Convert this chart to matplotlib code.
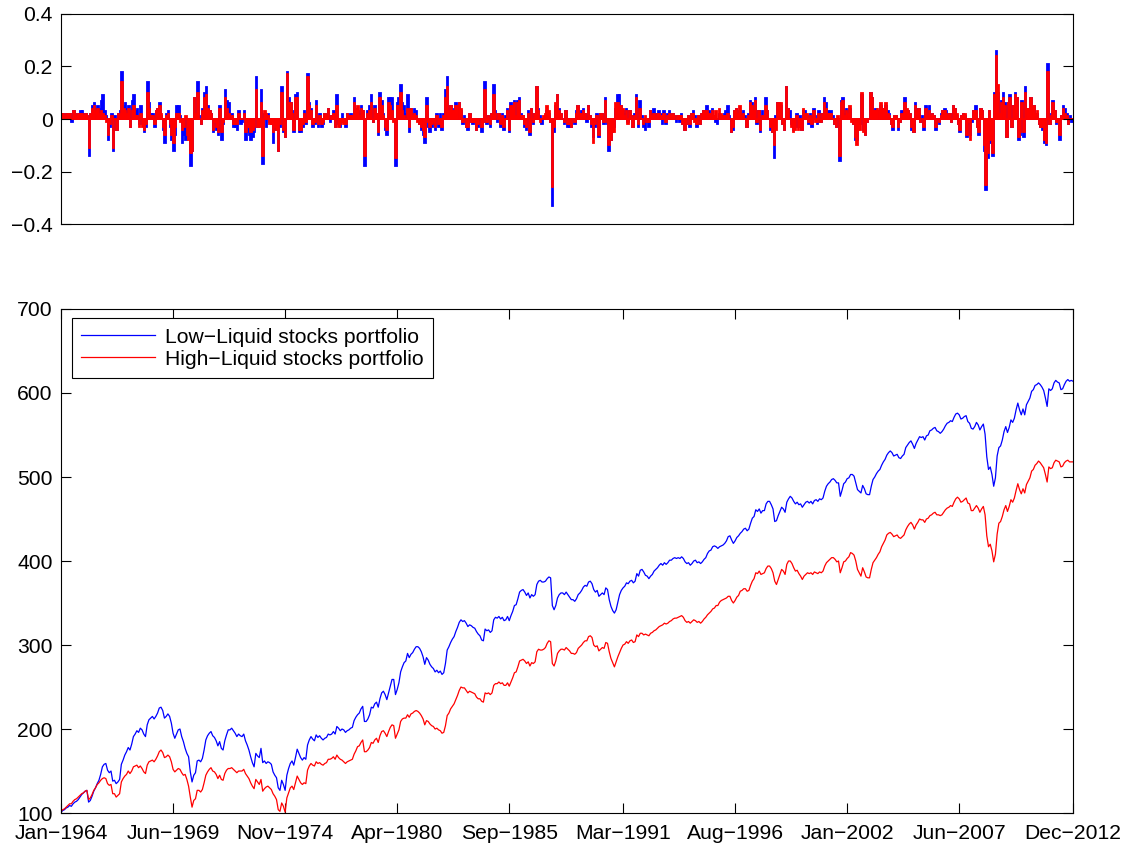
import numpy as np
import matplotlib
matplotlib.use("Agg")
import matplotlib.pyplot as plt

plt.rcParams["font.family"] = ["Liberation Sans", "DejaVu Sans"]

# monthly returns in percent, Jan-1964 .. Dec-2012 (one row per year)
low_liquid = [
    1, 2, 1, 2, 1, 2, -1, 3, 2, 1, 2, 3,
    3, 2, 2, 1, -14, 2, 5, 6, 4, 5, 4, 7,
    9, 3, 1, -8, -3, 2, -12, 1, -4, 2, 3, 18,
    5, 6, 4, 5, -3, 7, 9, 3, 4, -2, 5, -2,
    -5, -3, 14, 6, 2, 2, -3, 3, 4, 6, 1, -4,
    -9, 2, 3, -3, -8, -12, -6, 5, 5, 1, -9, -6,
    -8, -6, -4, -18, -12, 8, 3, 14, 1, -2, 4, 10,
    12, 5, 3, 2, -5, -2, -4, -6, 5, -8, -2, 11,
    7, 6, 0, 2, -3, -3, -4, 3, -2, -1, 3, -8,
    -5, -6, -8, -7, -5, 16, -3, -2, 11, -17, 2, -3,
    2, -1, -2, -9, -4, -3, -12, -3, 12, -5, -7, 18,
    8, 6, 3, -5, 9, 10, -5, -5, -3, 3, -2, 17,
    6, 4, -3, -2, 7, -3, 2, -3, -2, 2, 1, 4,
    -1, 1, 3, -3, 9, -2, -3, 2, -1, -3, 2, 1,
    2, 1, 8, 4, 3, 2, 5, 3, -18, 0, 3, 5,
    9, -1, 5, 2, -6, 10, 7, 2, -4, -6, 8, 8,
    8, 0, -18, 6, 8, 13, 6, 5, 2, 9, -5, 4,
    2, 4, 3, 0, -2, -4, -6, -9, 8, -3, -5, -3,
    -2, -4, 2, -3, 2, -4, 2, 11, 16, 4, 5, 4,
    3, 6, 5, 6, 3, -2, 1, -3, -4, 2, -1, -2,
    -1, -4, -3, -2, -5, -1, 14, -2, 1, -3, 2, 13,
    3, -1, 2, -3, 2, -4, 1, 4, -5, 6, 5, 7,
    1, 7, 8, 2, 1, -3, -4, 3, -6, 4, -2, 2,
    12, 4, 1, -2, 0, 1, 3, 2, -1, -33, -5, 5,
    9, 4, 2, 0, -2, 3, -3, -3, -3, 0, -2, 3,
    5, 2, 3, 4, 2, -1, 5, 1, -3, -7, -3, 2,
    -7, 2, 2, -2, 8, -2, -12, -8, -5, -3, 4, 9,
    9, 5, 3, 2, 4, -1, 3, 1, -3, 2, 9, -3,
    7, 1, -3, -4, -1, -3, 3, 2, 4, 2, 2, 3,
    2, -2, 3, -2, 2, 3, 0, 2, 1, -1, 1, -1,
    2, -2, -4, -2, 1, -3, 2, 3, 1, -3, 1, -2,
    2, 3, 2, 5, 3, 1, 4, 1, -1, -2, 2, 1,
    1, 2, 3, 5, 1, -5, -4, 3, 4, 2, 3, 2,
    3, 1, -3, 2, 7, 6, 2, 8, -2, 3, -5, 3,
    0, 8, 3, 0, -4, -5, -15, 1, 6, 5, 5, -2,
    -4, 12, 4, 3, -2, -4, -3, 2, -3, 1, -4, 3,
    3, 1, -2, 2, -3, 4, 1, -2, 3, -1, 2, 8,
    6, 3, 2, 3, 1, -2, -3, 0, -16, 7, 8, 2,
    4, 1, 4, 0, -2, -8, -8, -2, -2, 9, -4, -6,
    -1, 0, 10, 8, 3, 4, 3, 2, 5, 4, 3, 5,
    3, 2, -2, -4, 1, 1, -4, -1, 3, 2, 8, 3,
    3, 2, -4, -5, 6, 4, 4, -1, 1, -4, 5, 1,
    5, 1, 2, 1, -4, -1, -2, 2, 3, 4, 3, 1,
    2, -1, 5, 4, 1, -2, -5, 1, 2, 1, -7, -2,
    -6, -1, 3, 5, -3, -6, 4, 3, -12, -27, -15, 3,
    -9, -14, 10, 26, 10, 2, 7, 10, 6, -7, 6, 9,
    -3, 5, 10, 8, -8, -6, 7, -7, 12, 4, 4, 8,
    2, 5, 1, 2, -2, -3, -4, -9, -10, 21, -2, 2,
    7, 3, -2, -1, -8, 1, 5, 4, 2, -2, 1, -1,
]

high_liquid = [
    2, 2, 1, 2, 2, 2, 0, 3, 2, 1, 2, 2,
    2, 1, 2, 1, -11, 2, 4, 5, 3, 4, 2, 3,
    2, 1, -1, -6, -2, 1, -11, 0, -4, 2, 2, 14,
    4, 3, 2, 4, -3, 3, 5, 1, 1, -3, 2, -3,
    -4, -2, 10, 4, 1, 1, -2, 3, 4, 5, 2, -3,
    -6, 1, 2, -2, -6, -9, -3, 2, 2, -1, -4, -3,
    1, -6, -8, -13, -12, 8, 2, 10, 0, -2, 3, 8,
    9, 4, 3, 2, -4, -1, -3, -5, 4, -5, -1, 8,
    4, 2, 0, 1, -2, -2, -2, 2, 0, 0, 2, -5,
    -3, -3, -5, -4, -3, 11, -3, -3, 6, -14, 3, 2,
    1, -2, -2, -5, -3, -4, -12, -2, 10, -4, -7, 17,
    6, 6, 2, -4, 8, 8, -4, -4, -2, 2, -1, 16,
    5, 3, -2, -1, 5, -2, 1, -2, -1, 2, 1, 4,
    0, 1, 2, -3, 5, -3, -2, -1, -2, -2, 2, 1,
    1, 1, 6, 4, 5, 1, 4, 3, -14, 0, 2, 3,
    6, -1, 4, 2, -5, 8, 5, 1, -3, -4, 6, 5,
    3, -1, -15, 5, 5, 10, 3, 1, 0, 4, -3, 4,
    1, 2, 1, -1, -2, -3, -4, -7, 5, -1, -3, -2,
    -1, -3, 1, -2, -1, -3, 1, 8, 12, 3, 5, 3,
    3, 5, 5, 6, 4, -1, 0, -3, -3, 2, -1, -1,
    -1, -4, -2, 0, -3, -1, 11, -1, 1, -2, 2, 9,
    2, 0, 2, -2, 1, -3, 0, 3, -4, 5, 5, 6,
    1, 6, 7, 1, 1, -2, -3, 2, -5, 4, -1, 2,
    12, 3, -1, 0, 1, 2, 5, 3, -1, -26, -3, 6,
    9, 3, 2, 0, -1, 3, -2, -2, -3, 0, -1, 2,
    5, 2, 2, 3, 2, 0, 5, 1, -2, -9, -2, 1,
    -6, 2, 2, -1, 7, -1, -10, -8, -5, -5, 6, 6,
    5, 5, 4, 1, 3, -2, 3, 1, -3, 1, 8, -2,
    4, 0, -2, 1, -1, -1, 3, 1, 2, 1, 2, 2,
    1, 1, 2, -1, 1, 2, 1, 2, 1, 0, 1, 1,
    1, -2, -4, -2, 1, -2, 2, 2, -1, -2, 1, -2,
    2, 3, 2, 3, 2, 2, 3, 1, 3, 0, 4, 2,
    1, 1, 1, 2, 0, -5, -3, 3, 4, 2, 5, 1,
    2, 0, -3, 1, 6, 5, 3, 7, -1, 3, -4, 1,
    1, 5, 3, 0, -3, -5, -10, -4, 6, 6, 6, -2,
    -4, 12, 4, 0, -3, -5, -4, 1, -4, -3, -4, 4,
    2, 2, -1, 1, -2, 3, -1, -1, 2, -1, 2, 6,
    4, 2, 2, 2, 0, -2, -3, 1, -14, 6, 7, 1,
    3, 2, 5, -1, -2, -7, -10, -4, -4, 10, -5, -6,
    -1, 0, 10, 8, 3, 3, 4, 3, 6, 4, 4, 6,
    2, 1, -2, -3, 1, 1, -3, -1, 2, 2, 6, 4,
    3, 2, -3, -5, 5, 3, 4, -1, 0, -3, 4, 1,
    3, 1, 2, 1, -3, 0, -1, 1, 3, 3, 2, 1,
    2, -1, 5, 4, 2, -2, -4, 1, 2, 2, -6, -1,
    -8, 0, 3, 3, -3, -5, 4, 3, -10, -25, -13, 3,
    -8, -13, 9, 24, 13, 2, 6, 8, 5, -7, 6, 8,
    -3, 5, 9, 8, -7, -5, 6, -5, 10, 4, 4, 8,
    2, 5, 2, 3, -2, -3, -3, -8, -9, 18, -2, 1,
    6, 3, -1, -1, -6, 1, 4, 2, 1, -2, 0, 0,
]

tick_labels = ["Jan−1964", "Jun−1969", "Nov−1974", "Apr−1980", "Sep−1985",
               "Mar−1991", "Aug−1996", "Jan−2002", "Jun−2007", "Dec−2012"]
month_names = ["Jan", "Feb", "Mar", "Apr", "May", "Jun",
               "Jul", "Aug", "Sep", "Oct", "Nov", "Dec"]

assert len(low_liquid) == len(high_liquid) == 588

low = np.array(low_liquid) / 100.0
high = np.array(high_liquid) / 100.0
x = np.arange(1, len(low) + 1)

# position of each date label in months since Jan-1964
tick_pos = [(int(t[4:]) - 1964) * 12 + month_names.index(t[:3]) + 1 for t in tick_labels]

FS = 15.2
fig = plt.figure(figsize=(11.34, 8.47), dpi=100)

# returns panel
ax1 = fig.add_axes([0.0538, 0.7355, 0.8924, 0.248])
ax1.bar(x, low, width=0.9, color="blue", edgecolor="blue", linewidth=1.3)
ax1.bar(x, high, width=0.9, color="red", edgecolor="red", linewidth=1.3)
ax1.set_xlim(0.5, len(x) + 0.5)
ax1.set_ylim(-0.4, 0.4)
ax1.set_yticks([-0.4, -0.2, 0, 0.2, 0.4])
ax1.set_yticklabels(["−0.4", "−0.2", "0", "0.2", "0.4"])
ax1.tick_params(axis="y", direction="in", length=7, width=0.8, right=True,
                labelsize=FS, pad=6)
ax1.tick_params(axis="x", bottom=False, top=False, labelbottom=False)

# cumulative value panel
ax2 = fig.add_axes([0.0538, 0.0401, 0.8924, 0.5951])
ax2.plot(x, 100 + 100 * np.cumsum(low), color="blue", lw=0.9,
         label="Low−Liquid stocks portfolio")
ax2.plot(x, 100 + 100 * np.cumsum(high), color="red", lw=0.9,
         label="High−Liquid stocks portfolio")
ax2.set_xlim(1, len(x))
ax2.set_ylim(100, 700)
ax2.set_yticks(range(100, 701, 100))
ax2.set_xticks(tick_pos)
ax2.set_xticklabels(tick_labels)
ax2.tick_params(direction="in", length=7, width=0.8, right=True, top=True,
                labelsize=FS, pad=6)
ax2.tick_params(axis="x", pad=8)

leg = ax2.legend(loc="upper left", bbox_to_anchor=(0.0106, 0.982), borderaxespad=0,
                 fontsize=FS, fancybox=False, framealpha=1, edgecolor="black",
                 handlelength=3.5, handletextpad=0.45, labelspacing=0.15, borderpad=0.45)
leg.get_frame().set_linewidth(0.8)

for ax in (ax1, ax2):
    for s in ax.spines.values():
        s.set_linewidth(0.8)

fig.savefig("out.png", dpi=100)
